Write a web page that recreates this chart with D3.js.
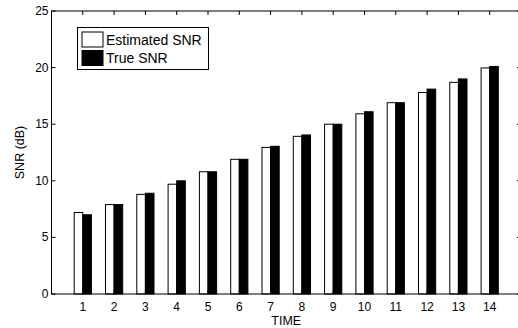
<!DOCTYPE html>
<html lang="en">
  <head>
    <meta charset="UTF-8" />
    <title>SNR estimate vs true</title>
    <script src="https://d3js.org/d3.v7.min.js"></script>
    <style>
      body { margin: 0; padding: 0; background: #fff; }
      svg { display: block; font-family: "Liberation Sans", Arial, sans-serif; }
      .tick-label { font-size: 12px; fill: #000; }
      .axis-title { font-size: 12.5px; fill: #000; }
      .legend text { font-size: 14px; fill: #000; }
    </style>
  </head>
  <body>
    <script>
      // Data
      const times = [1, 2, 3, 4, 5, 6, 7, 8, 9, 10, 11, 12, 13, 14];
      const estimatedSnr = [7.2, 7.9, 8.8, 9.7, 10.8, 11.9, 12.95, 13.93, 15.0, 15.92, 16.9, 17.8, 18.7, 19.97];
      const trueSnr = [7.0, 7.9, 8.9, 10.0, 10.8, 11.9, 13.05, 14.05, 15.0, 16.1, 16.9, 18.1, 19.0, 20.1];
      const yTicks = [0, 5, 10, 15, 20, 25];

      const width = 518, height = 328;
      const margin = { top: 11, right: -3, bottom: 34, left: 51.5 };
      const tickLen = 4;

      const svg = d3.select("body").append("svg")
        .attr("width", width)
        .attr("height", height);

      // x: MATLAB-style limits [0, 15] so the right border falls just outside
      const x = d3.scaleLinear()
        .domain([0, times.length + 1])
        .range([margin.left, width - margin.right]);
      const y = d3.scaleLinear()
        .domain([0, 25])
        .range([height - margin.bottom, margin.top]);

      const barW = (x(1) - x(0)) * 0.275;

      // Bars
      const bars = svg.append("g");
      bars.selectAll("rect.est")
        .data(times)
        .join("rect")
        .attr("class", "est")
        .attr("x", (d, i) => x(d) - barW)
        .attr("y", (d, i) => y(estimatedSnr[i]))
        .attr("width", barW)
        .attr("height", (d, i) => y(0) - y(estimatedSnr[i]))
        .attr("fill", "#fff")
        .attr("stroke", "#000")
        .attr("stroke-width", 1);
      bars.selectAll("rect.true")
        .data(times)
        .join("rect")
        .attr("class", "true")
        .attr("x", d => x(d))
        .attr("y", (d, i) => y(trueSnr[i]))
        .attr("width", barW)
        .attr("height", (d, i) => y(0) - y(trueSnr[i]))
        .attr("fill", "#000")
        .attr("stroke", "#000")
        .attr("stroke-width", 1);

      // Axes box with inward ticks (MATLAB style)
      const x0 = x.range()[0], x1 = x.range()[1];
      const y0 = y.range()[0], y1 = y.range()[1];
      const frame = svg.append("g").attr("stroke", "#000").attr("stroke-width", 1).attr("fill", "none");
      frame.append("rect")
        .attr("x", x0).attr("y", y1)
        .attr("width", x1 - x0).attr("height", y0 - y1);

      times.forEach(t => {
        frame.append("line").attr("x1", x(t)).attr("x2", x(t)).attr("y1", y0).attr("y2", y0 - tickLen);
        frame.append("line").attr("x1", x(t)).attr("x2", x(t)).attr("y1", y1).attr("y2", y1 + tickLen);
      });
      yTicks.forEach(v => {
        frame.append("line").attr("x1", x0).attr("x2", x0 + tickLen).attr("y1", y(v)).attr("y2", y(v));
        frame.append("line").attr("x1", x1).attr("x2", x1 - tickLen).attr("y1", y(v)).attr("y2", y(v));
      });

      // Tick labels
      svg.append("g").selectAll("text")
        .data(times)
        .join("text")
        .attr("class", "tick-label")
        .attr("x", d => x(d))
        .attr("y", y0 + 17)
        .attr("text-anchor", "middle")
        .text(d => d);
      svg.append("g").selectAll("text")
        .data(yTicks)
        .join("text")
        .attr("class", "tick-label")
        .attr("x", x0 - 3)
        .attr("y", d => y(d) + 4)
        .attr("text-anchor", "end")
        .text(d => d);

      // Axis titles
      svg.append("text")
        .attr("class", "axis-title")
        .attr("x", (x0 + x1) / 2)
        .attr("y", y0 + 31)
        .attr("text-anchor", "middle")
        .text("TIME");
      svg.append("text")
        .attr("class", "axis-title")
        .attr("transform", `translate(24,${(y0 + y1) / 2}) rotate(-90)`)
        .attr("text-anchor", "middle")
        .text("SNR (dB)");

      // Legend
      const legend = svg.append("g").attr("class", "legend");
      legend.append("rect")
        .attr("x", 77.5).attr("y", 27.5)
        .attr("width", 131).attr("height", 42)
        .attr("fill", "#fff").attr("stroke", "#000");
      const items = [
        { label: "Estimated SNR", fill: "#fff" },
        { label: "True SNR", fill: "#000" }
      ];
      items.forEach((it, i) => {
        legend.append("rect")
          .attr("x", 82).attr("y", 32 + i * 18.5)
          .attr("width", 21).attr("height", 15)
          .attr("fill", it.fill).attr("stroke", "#000");
        legend.append("text")
          .attr("x", 106).attr("y", 44.5 + i * 18)
          .text(it.label);
      });
    </script>
  </body>
</html>
